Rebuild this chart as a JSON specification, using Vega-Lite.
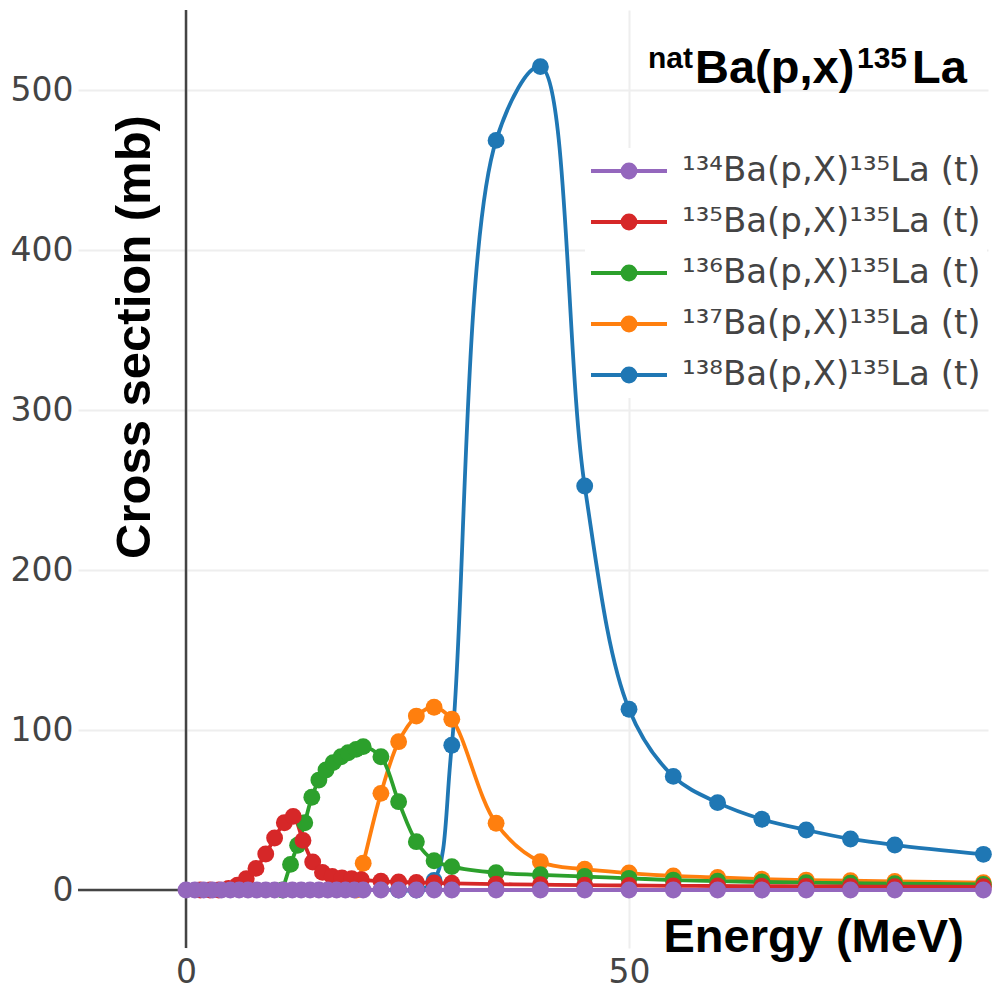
{
  "$schema": "https://vega.github.io/schema/vega-lite/v6.json",
  "width": 910,
  "height": 938,
  "autosize": {"type": "none"},
  "padding": {"left": 78, "top": 10, "right": 10, "bottom": 42},
  "background": "white",
  "config": {"view": {"stroke": null}},
  "datasets": {
    "xs": [
      {"E": 24, "xs": 0, "r": "¹³⁸Ba(p,X)¹³⁵La (t)"},
      {"E": 26, "xs": 0, "r": "¹³⁸Ba(p,X)¹³⁵La (t)"},
      {"E": 28, "xs": 6, "r": "¹³⁸Ba(p,X)¹³⁵La (t)"},
      {"E": 30, "xs": 90.5, "r": "¹³⁸Ba(p,X)¹³⁵La (t)"},
      {"E": 35, "xs": 468.5, "r": "¹³⁸Ba(p,X)¹³⁵La (t)"},
      {"E": 40, "xs": 514.6, "r": "¹³⁸Ba(p,X)¹³⁵La (t)"},
      {"E": 45, "xs": 252.5, "r": "¹³⁸Ba(p,X)¹³⁵La (t)"},
      {"E": 50, "xs": 113, "r": "¹³⁸Ba(p,X)¹³⁵La (t)"},
      {"E": 55, "xs": 71, "r": "¹³⁸Ba(p,X)¹³⁵La (t)"},
      {"E": 60, "xs": 54.6, "r": "¹³⁸Ba(p,X)¹³⁵La (t)"},
      {"E": 65, "xs": 44.2, "r": "¹³⁸Ba(p,X)¹³⁵La (t)"},
      {"E": 70, "xs": 37.5, "r": "¹³⁸Ba(p,X)¹³⁵La (t)"},
      {"E": 75, "xs": 31.9, "r": "¹³⁸Ba(p,X)¹³⁵La (t)"},
      {"E": 80, "xs": 28.1, "r": "¹³⁸Ba(p,X)¹³⁵La (t)"},
      {"E": 90, "xs": 22.3, "r": "¹³⁸Ba(p,X)¹³⁵La (t)"},

      {"E": 19.2, "xs": 0, "r": "¹³⁷Ba(p,X)¹³⁵La (t)"},
      {"E": 20, "xs": 16.7, "r": "¹³⁷Ba(p,X)¹³⁵La (t)"},
      {"E": 22, "xs": 60.4, "r": "¹³⁷Ba(p,X)¹³⁵La (t)"},
      {"E": 24, "xs": 92.7, "r": "¹³⁷Ba(p,X)¹³⁵La (t)"},
      {"E": 26, "xs": 108.7, "r": "¹³⁷Ba(p,X)¹³⁵La (t)"},
      {"E": 28, "xs": 114.2, "r": "¹³⁷Ba(p,X)¹³⁵La (t)"},
      {"E": 30, "xs": 106.7, "r": "¹³⁷Ba(p,X)¹³⁵La (t)"},
      {"E": 35, "xs": 41.7, "r": "¹³⁷Ba(p,X)¹³⁵La (t)"},
      {"E": 40, "xs": 17.7, "r": "¹³⁷Ba(p,X)¹³⁵La (t)"},
      {"E": 45, "xs": 13, "r": "¹³⁷Ba(p,X)¹³⁵La (t)"},
      {"E": 50, "xs": 10.6, "r": "¹³⁷Ba(p,X)¹³⁵La (t)"},
      {"E": 55, "xs": 8.8, "r": "¹³⁷Ba(p,X)¹³⁵La (t)"},
      {"E": 60, "xs": 7.9, "r": "¹³⁷Ba(p,X)¹³⁵La (t)"},
      {"E": 65, "xs": 6.8, "r": "¹³⁷Ba(p,X)¹³⁵La (t)"},
      {"E": 70, "xs": 6.2, "r": "¹³⁷Ba(p,X)¹³⁵La (t)"},
      {"E": 75, "xs": 5.8, "r": "¹³⁷Ba(p,X)¹³⁵La (t)"},
      {"E": 80, "xs": 5.4, "r": "¹³⁷Ba(p,X)¹³⁵La (t)"},
      {"E": 90, "xs": 4.6, "r": "¹³⁷Ba(p,X)¹³⁵La (t)"},

      {"E": 10.9, "xs": 0, "r": "¹³⁶Ba(p,X)¹³⁵La (t)"},
      {"E": 11.8, "xs": 16, "r": "¹³⁶Ba(p,X)¹³⁵La (t)"},
      {"E": 12.6, "xs": 28, "r": "¹³⁶Ba(p,X)¹³⁵La (t)"},
      {"E": 13.4, "xs": 42, "r": "¹³⁶Ba(p,X)¹³⁵La (t)"},
      {"E": 14.2, "xs": 58, "r": "¹³⁶Ba(p,X)¹³⁵La (t)"},
      {"E": 15.0, "xs": 68.7, "r": "¹³⁶Ba(p,X)¹³⁵La (t)"},
      {"E": 15.8, "xs": 75, "r": "¹³⁶Ba(p,X)¹³⁵La (t)"},
      {"E": 16.6, "xs": 79.6, "r": "¹³⁶Ba(p,X)¹³⁵La (t)"},
      {"E": 17.5, "xs": 83.3, "r": "¹³⁶Ba(p,X)¹³⁵La (t)"},
      {"E": 18.3, "xs": 85.8, "r": "¹³⁶Ba(p,X)¹³⁵La (t)"},
      {"E": 19.2, "xs": 87.9, "r": "¹³⁶Ba(p,X)¹³⁵La (t)"},
      {"E": 20, "xs": 89.6, "r": "¹³⁶Ba(p,X)¹³⁵La (t)"},
      {"E": 22, "xs": 83.3, "r": "¹³⁶Ba(p,X)¹³⁵La (t)"},
      {"E": 24, "xs": 55.2, "r": "¹³⁶Ba(p,X)¹³⁵La (t)"},
      {"E": 26, "xs": 30.2, "r": "¹³⁶Ba(p,X)¹³⁵La (t)"},
      {"E": 28, "xs": 18.3, "r": "¹³⁶Ba(p,X)¹³⁵La (t)"},
      {"E": 30, "xs": 14.6, "r": "¹³⁶Ba(p,X)¹³⁵La (t)"},
      {"E": 35, "xs": 10.8, "r": "¹³⁶Ba(p,X)¹³⁵La (t)"},
      {"E": 40, "xs": 9.5, "r": "¹³⁶Ba(p,X)¹³⁵La (t)"},
      {"E": 45, "xs": 8.4, "r": "¹³⁶Ba(p,X)¹³⁵La (t)"},
      {"E": 50, "xs": 7.3, "r": "¹³⁶Ba(p,X)¹³⁵La (t)"},
      {"E": 55, "xs": 6.2, "r": "¹³⁶Ba(p,X)¹³⁵La (t)"},
      {"E": 60, "xs": 5.5, "r": "¹³⁶Ba(p,X)¹³⁵La (t)"},
      {"E": 65, "xs": 5, "r": "¹³⁶Ba(p,X)¹³⁵La (t)"},
      {"E": 70, "xs": 4.6, "r": "¹³⁶Ba(p,X)¹³⁵La (t)"},
      {"E": 75, "xs": 4.3, "r": "¹³⁶Ba(p,X)¹³⁵La (t)"},
      {"E": 80, "xs": 4, "r": "¹³⁶Ba(p,X)¹³⁵La (t)"},
      {"E": 90, "xs": 3.5, "r": "¹³⁶Ba(p,X)¹³⁵La (t)"},

      {"E": 1.6, "xs": 0, "r": "¹³⁵Ba(p,X)¹³⁵La (t)"},
      {"E": 2.7, "xs": 0, "r": "¹³⁵Ba(p,X)¹³⁵La (t)"},
      {"E": 3.7, "xs": 0, "r": "¹³⁵Ba(p,X)¹³⁵La (t)"},
      {"E": 4.8, "xs": 1, "r": "¹³⁵Ba(p,X)¹³⁵La (t)"},
      {"E": 5.8, "xs": 3, "r": "¹³⁵Ba(p,X)¹³⁵La (t)"},
      {"E": 6.8, "xs": 7, "r": "¹³⁵Ba(p,X)¹³⁵La (t)"},
      {"E": 7.9, "xs": 13.5, "r": "¹³⁵Ba(p,X)¹³⁵La (t)"},
      {"E": 9.0, "xs": 22.5, "r": "¹³⁵Ba(p,X)¹³⁵La (t)"},
      {"E": 10.0, "xs": 32.5, "r": "¹³⁵Ba(p,X)¹³⁵La (t)"},
      {"E": 11.1, "xs": 42, "r": "¹³⁵Ba(p,X)¹³⁵La (t)"},
      {"E": 12.1, "xs": 46, "r": "¹³⁵Ba(p,X)¹³⁵La (t)"},
      {"E": 13.2, "xs": 31, "r": "¹³⁵Ba(p,X)¹³⁵La (t)"},
      {"E": 14.3, "xs": 17.5, "r": "¹³⁵Ba(p,X)¹³⁵La (t)"},
      {"E": 15.4, "xs": 11, "r": "¹³⁵Ba(p,X)¹³⁵La (t)"},
      {"E": 16.5, "xs": 8.5, "r": "¹³⁵Ba(p,X)¹³⁵La (t)"},
      {"E": 17.6, "xs": 7.5, "r": "¹³⁵Ba(p,X)¹³⁵La (t)"},
      {"E": 18.7, "xs": 7, "r": "¹³⁵Ba(p,X)¹³⁵La (t)"},
      {"E": 19.8, "xs": 6.5, "r": "¹³⁵Ba(p,X)¹³⁵La (t)"},
      {"E": 22, "xs": 5.5, "r": "¹³⁵Ba(p,X)¹³⁵La (t)"},
      {"E": 24, "xs": 5, "r": "¹³⁵Ba(p,X)¹³⁵La (t)"},
      {"E": 26, "xs": 4.7, "r": "¹³⁵Ba(p,X)¹³⁵La (t)"},
      {"E": 28, "xs": 4.4, "r": "¹³⁵Ba(p,X)¹³⁵La (t)"},
      {"E": 30, "xs": 4.2, "r": "¹³⁵Ba(p,X)¹³⁵La (t)"},
      {"E": 35, "xs": 3.7, "r": "¹³⁵Ba(p,X)¹³⁵La (t)"},
      {"E": 40, "xs": 3.3, "r": "¹³⁵Ba(p,X)¹³⁵La (t)"},
      {"E": 45, "xs": 3.0, "r": "¹³⁵Ba(p,X)¹³⁵La (t)"},
      {"E": 50, "xs": 2.8, "r": "¹³⁵Ba(p,X)¹³⁵La (t)"},
      {"E": 55, "xs": 2.6, "r": "¹³⁵Ba(p,X)¹³⁵La (t)"},
      {"E": 60, "xs": 2.5, "r": "¹³⁵Ba(p,X)¹³⁵La (t)"},
      {"E": 65, "xs": 2.4, "r": "¹³⁵Ba(p,X)¹³⁵La (t)"},
      {"E": 70, "xs": 2.3, "r": "¹³⁵Ba(p,X)¹³⁵La (t)"},
      {"E": 75, "xs": 2.2, "r": "¹³⁵Ba(p,X)¹³⁵La (t)"},
      {"E": 80, "xs": 2.1, "r": "¹³⁵Ba(p,X)¹³⁵La (t)"},
      {"E": 90, "xs": 2.0, "r": "¹³⁵Ba(p,X)¹³⁵La (t)"},

      {"E": 0, "xs": 0, "r": "¹³⁴Ba(p,X)¹³⁵La (t)"},
      {"E": 1, "xs": 0, "r": "¹³⁴Ba(p,X)¹³⁵La (t)"},
      {"E": 2, "xs": 0, "r": "¹³⁴Ba(p,X)¹³⁵La (t)"},
      {"E": 3, "xs": 0, "r": "¹³⁴Ba(p,X)¹³⁵La (t)"},
      {"E": 4, "xs": 0, "r": "¹³⁴Ba(p,X)¹³⁵La (t)"},
      {"E": 5, "xs": 0, "r": "¹³⁴Ba(p,X)¹³⁵La (t)"},
      {"E": 6, "xs": 0, "r": "¹³⁴Ba(p,X)¹³⁵La (t)"},
      {"E": 7, "xs": 0, "r": "¹³⁴Ba(p,X)¹³⁵La (t)"},
      {"E": 8, "xs": 0, "r": "¹³⁴Ba(p,X)¹³⁵La (t)"},
      {"E": 9, "xs": 0, "r": "¹³⁴Ba(p,X)¹³⁵La (t)"},
      {"E": 10, "xs": 0, "r": "¹³⁴Ba(p,X)¹³⁵La (t)"},
      {"E": 11, "xs": 0, "r": "¹³⁴Ba(p,X)¹³⁵La (t)"},
      {"E": 12, "xs": 0, "r": "¹³⁴Ba(p,X)¹³⁵La (t)"},
      {"E": 13, "xs": 0, "r": "¹³⁴Ba(p,X)¹³⁵La (t)"},
      {"E": 14, "xs": 0, "r": "¹³⁴Ba(p,X)¹³⁵La (t)"},
      {"E": 15, "xs": 0, "r": "¹³⁴Ba(p,X)¹³⁵La (t)"},
      {"E": 16, "xs": 0, "r": "¹³⁴Ba(p,X)¹³⁵La (t)"},
      {"E": 17, "xs": 0, "r": "¹³⁴Ba(p,X)¹³⁵La (t)"},
      {"E": 18, "xs": 0, "r": "¹³⁴Ba(p,X)¹³⁵La (t)"},
      {"E": 19, "xs": 0, "r": "¹³⁴Ba(p,X)¹³⁵La (t)"},
      {"E": 20, "xs": 0, "r": "¹³⁴Ba(p,X)¹³⁵La (t)"},
      {"E": 22, "xs": 0, "r": "¹³⁴Ba(p,X)¹³⁵La (t)"},
      {"E": 24, "xs": 0, "r": "¹³⁴Ba(p,X)¹³⁵La (t)"},
      {"E": 26, "xs": 0, "r": "¹³⁴Ba(p,X)¹³⁵La (t)"},
      {"E": 28, "xs": 0, "r": "¹³⁴Ba(p,X)¹³⁵La (t)"},
      {"E": 30, "xs": 0, "r": "¹³⁴Ba(p,X)¹³⁵La (t)"},
      {"E": 35, "xs": 0, "r": "¹³⁴Ba(p,X)¹³⁵La (t)"},
      {"E": 40, "xs": 0, "r": "¹³⁴Ba(p,X)¹³⁵La (t)"},
      {"E": 45, "xs": 0, "r": "¹³⁴Ba(p,X)¹³⁵La (t)"},
      {"E": 50, "xs": 0, "r": "¹³⁴Ba(p,X)¹³⁵La (t)"},
      {"E": 55, "xs": 0, "r": "¹³⁴Ba(p,X)¹³⁵La (t)"},
      {"E": 60, "xs": 0, "r": "¹³⁴Ba(p,X)¹³⁵La (t)"},
      {"E": 65, "xs": 0, "r": "¹³⁴Ba(p,X)¹³⁵La (t)"},
      {"E": 70, "xs": 0, "r": "¹³⁴Ba(p,X)¹³⁵La (t)"},
      {"E": 75, "xs": 0, "r": "¹³⁴Ba(p,X)¹³⁵La (t)"},
      {"E": 80, "xs": 0, "r": "¹³⁴Ba(p,X)¹³⁵La (t)"},
      {"E": 90, "xs": 0, "r": "¹³⁴Ba(p,X)¹³⁵La (t)"}
    ]
  },
  "layer": [
    {
      "data": {"values": [{}]},
      "mark": {"type": "rule", "color": "#444444", "strokeWidth": 2.5},
      "encoding": {"x": {"datum": 0, "type": "quantitative"}}
    },
    {
      "data": {"values": [{}]},
      "mark": {"type": "rule", "color": "#444444", "strokeWidth": 2.5},
      "encoding": {"y": {"datum": 0, "type": "quantitative"}}
    },
    {
      "data": {"name": "xs"},
      "encoding": {
        "x": {
          "field": "E", "type": "quantitative",
          "scale": {"domain": [-12.19, 90.52], "nice": false, "zero": false},
          "axis": {
            "title": "Energy (MeV)", "values": [0, 50], "grid": true,
            "gridColor": "#eeeeee", "gridWidth": 2, "domain": false, "ticks": false,
            "labelFont": "DejaVu Sans", "labelFontSize": 33, "labelColor": "#444444",
            "labelPadding": 8, "labelFlush": false,
            "titleFont": "Liberation Sans", "titleFontSize": 47, "titleFontWeight": "bold",
            "titleColor": "black", "titleX": 585, "titleY": 3, "titleAlign": "left",
            "titleBaseline": "alphabetic"
          }
        },
        "y": {
          "field": "xs", "type": "quantitative",
          "scale": {"domain": [-36.25, 550], "nice": false, "zero": false},
          "axis": {
            "title": "Cross section (mb)", "values": [0, 100, 200, 300, 400, 500], "grid": true,
            "gridColor": "#eeeeee", "gridWidth": 2, "domain": false, "ticks": false,
            "labelFont": "DejaVu Sans", "labelFontSize": 33, "labelColor": "#444444",
            "labelPadding": 5,
            "titleFont": "Liberation Sans", "titleFontSize": 49, "titleFontWeight": "bold",
            "titleColor": "black", "titleX": 71, "titleY": 326.5, "titleAngle": 270,
            "titleAlign": "center", "titleBaseline": "alphabetic"
          }
        },
        "color": {
          "field": "r", "type": "nominal",
          "scale": {
            "domain": ["¹³⁴Ba(p,X)¹³⁵La (t)", "¹³⁵Ba(p,X)¹³⁵La (t)", "¹³⁶Ba(p,X)¹³⁵La (t)", "¹³⁷Ba(p,X)¹³⁵La (t)", "¹³⁸Ba(p,X)¹³⁵La (t)"],
            "range": ["#9467bd", "#d62728", "#2ca02c", "#ff7f0e", "#1f77b4"]
          },
          "legend": {
            "title": null, "orient": "none", "legendX": 507, "legendY": 138,
            "symbolType": "M-1.36,0L4.72,0M2.2,0A0.52,0.52,0,1,1,1.16,0A0.52,0.52,0,1,1,2.2,0Z",
            "symbolSize": 625, "symbolStrokeWidth": 3.8, "symbolOpacity": 1,
            "labelFont": "DejaVu Sans", "labelFontSize": 34, "labelColor": "#444444",
            "labelOffset": 57, "labelLimit": 1000, "rowPadding": 17, "padding": 6,
            "fillColor": "white",
            "encode": {"symbols": {"update": {"fill": {"scale": "color", "field": "value"}, "stroke": {"scale": "color", "field": "value"}}}}
          }
        }
      },
      "layer": [
        {"mark": {"type": "line", "interpolate": "catmull-rom", "strokeWidth": 3.8}},
        {"mark": {"type": "point", "filled": true, "size": 285, "opacity": 1, "shape": "circle"}}
      ]
    },
    {
      "data": {"values": [{}]},
      "mark": {"type": "text", "text": "nat", "font": "Liberation Sans", "fontWeight": "bold", "fontSize": 30, "align": "left", "baseline": "alphabetic", "color": "black"},
      "encoding": {"x": {"datum": 52.14, "type": "quantitative"}, "y": {"datum": 513.75, "type": "quantitative"}}
    },
    {
      "data": {"values": [{}]},
      "mark": {"type": "text", "text": "Ba(p,x)", "font": "Liberation Sans", "fontWeight": "bold", "fontSize": 47, "align": "left", "baseline": "alphabetic", "color": "black"},
      "encoding": {"x": {"datum": 57.45, "type": "quantitative"}, "y": {"datum": 504.2, "type": "quantitative"}}
    },
    {
      "data": {"values": [{}]},
      "mark": {"type": "text", "text": "135", "font": "Liberation Sans", "fontWeight": "bold", "fontSize": 30, "align": "left", "baseline": "alphabetic", "color": "black"},
      "encoding": {"x": {"datum": 75.73, "type": "quantitative"}, "y": {"datum": 513.75, "type": "quantitative"}}
    },
    {
      "data": {"values": [{}]},
      "mark": {"type": "text", "text": "La", "font": "Liberation Sans", "fontWeight": "bold", "fontSize": 47, "align": "left", "baseline": "alphabetic", "color": "black"},
      "encoding": {"x": {"datum": 81.94, "type": "quantitative"}, "y": {"datum": 504.2, "type": "quantitative"}}
    }
  ]
}
